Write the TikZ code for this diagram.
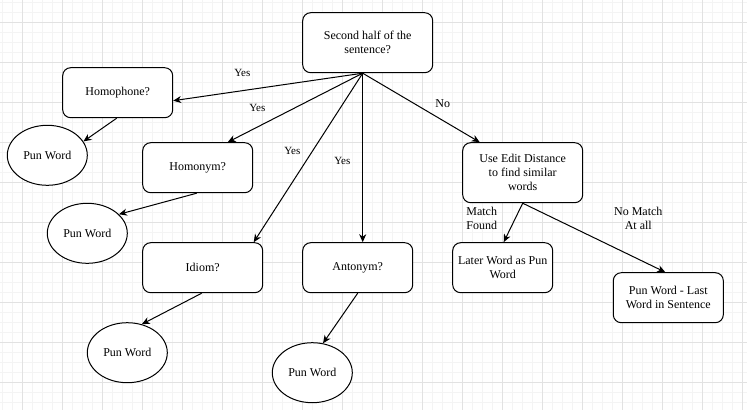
\documentclass[tikz,border=0pt]{standalone}
\usepackage{fontspec}
\setmainfont{Liberation Serif}
\usetikzlibrary{shapes.geometric,arrows.meta}
\definecolor{gridminor}{RGB}{244,244,244}
\definecolor{gridmajor}{RGB}{226,226,226}
\begin{document}
\begin{tikzpicture}[x=1bp,y=-1bp,
  box/.style={draw, rounded corners=8bp, line width=1bp, align=center, inner sep=0pt,
    fill=white, font=\fontsize{12bp}{14bp}\selectfont},
  pun/.style={draw, ellipse, minimum width=80bp, minimum height=60bp, inner sep=0pt,
    line width=1bp, fill=white, font=\fontsize{12bp}{14bp}\selectfont},
  conn/.style={line width=1bp, -{Stealth[length=8bp,width=7bp,inset=2.5bp]}},
  lbl/.style={inner sep=0pt, align=center, font=\fontsize{11bp}{13.5bp}\selectfont},
  lblb/.style={inner sep=0pt, align=center, font=\fontsize{12bp}{14bp}\selectfont}
]
\useasboundingbox (0,0) rectangle (747,410);
\fill[white] (0,0) rectangle (747,410);
% grid
\foreach \i in {0,...,74} \draw[gridminor, line width=0.8bp] ({2.7+10*\i},0) -- ({2.7+10*\i},410);
\foreach \i in {0,...,40} \draw[gridminor, line width=0.8bp] (0,{2.7+10*\i}) -- (747,{2.7+10*\i});
\foreach \i in {0,...,18} \draw[gridmajor, line width=0.8bp] ({22.7+40*\i},0) -- ({22.7+40*\i},410);
\foreach \i in {0,...,9} \draw[gridmajor, line width=0.8bp] (0,{22.7+40*\i}) -- (747,{22.7+40*\i});

% nodes
\node[box, minimum width=130bp, minimum height=60bp] (top) at (367.7,42.7) {Second half of the\\sentence?};
\node[box, minimum width=110bp, minimum height=50bp] (h1) at (117.7,92.7) {Homophone?};
\node[box, minimum width=110bp, minimum height=50bp] (h2) at (197.7,167.7) {Homonym?};
\node[box, minimum width=120bp, minimum height=50bp] (idiom) at (202.7,267.7) {Idiom?};
\node[box, minimum width=110bp, minimum height=50bp] (anto) at (357.7,267.7) {Antonym?};
\node[box, minimum width=120bp, minimum height=60bp] (edit) at (522.7,172.7) {Use Edit Distance\\to find similar\\words};
\node[box, minimum width=100bp, minimum height=50bp] (later) at (502.7,267.7) {Later Word as Pun\\Word};
\node[box, minimum width=110bp, minimum height=50bp] (last) at (668.3,297.7) {Pun Word - Last\\Word in Sentence};

\node[pun] (pw1) at (47.3,155.3) {Pun Word};
\node[pun] (pw2) at (87.3,233.3) {Pun Word};
\node[pun] (pw3) at (127.3,352.7) {Pun Word};
\node[pun] (pw4) at (312.3,372.7) {Pun Word};

\coordinate (hub) at ([xshift=-5bp]top.south);

% connectors
\draw[conn] (hub) -- ([yshift=-8bp]h1.east);
\draw[conn] (hub) -- ([xshift=30bp]h2.north);
\draw[conn] (hub) -- ([xshift=51bp]idiom.north);
\draw[conn] (hub) -- (hub |- anto.north);
\draw[conn] (hub) -- ([xshift=-43bp]edit.north);
\draw[conn] (edit.south) -- ([xshift=1bp]later.north);
\draw[conn] (edit.south) -- ([xshift=-3bp]last.north);

\draw[conn] ([xshift=-1bp]h1.south) -- (pw1.21);
\draw[conn] ([xshift=-1bp]h2.south) -- (pw2.31);
\draw[conn] ([xshift=-1bp]idiom.south) -- (pw3.63);
\draw[conn] (anto.south) -- (pw4.70);

% labels
\node[lbl] (l1) at (242.3,73.3) {Yes};
\node[lbl] (l2) at (257.3,108.3) {Yes};
\node[lbl] (l3) at (292.3,151) {Yes};
\node[lbl] (l4) at (342.3,161) {Yes};
\node[lblb] (l5) at (442.7,103.3) {No};
\node[lblb] (l6) at (481.7,218.3) {Match\\Found};
\node[lblb] (l7) at (638.3,218.3) {No Match\\At all};
\end{tikzpicture}
\end{document}
